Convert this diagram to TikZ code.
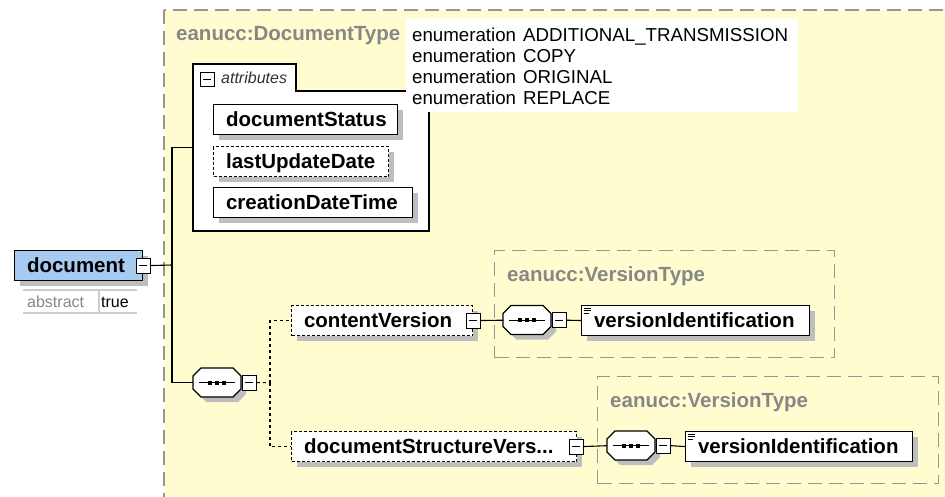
\documentclass[tikz,border=0pt]{standalone}
\usepackage{fontspec}
\setmainfont{Liberation Sans}
\usetikzlibrary{shadows}
\definecolor{bgy}{RGB}{255,253,208}
\definecolor{docblue}{RGB}{166,202,240}
\definecolor{lblgray}{RGB}{135,135,135}
\definecolor{boxgray}{RGB}{150,150,150}
\definecolor{shadowc}{RGB}{190,190,190}
\definecolor{rulegray}{RGB}{205,205,205}
\newcommand\boxlbl[2]{\makebox[#1][l]{#2}}
\newcommand\seqnode[2]{%
  \node[minimum width=48pt, minimum height=29pt, inner sep=0pt, anchor=north west] (#1) at (#2) {};
  \fill[shadowc, shift={(#1.north west)}, xshift=5pt, yshift=-5pt] (8,0) -- (40,0) -- (48,8) -- (48,21) -- (40,29) -- (8,29) -- (0,21) -- (0,8) -- cycle;
  \draw[line width=1.1pt, fill=white, shift={(#1.north west)}] (8,0) -- (40,0) -- (48,8) -- (48,21) -- (40,29) -- (8,29) -- (0,21) -- (0,8) -- cycle;
  \draw[line width=1pt] ([xshift=6pt]#1.west) -- ([xshift=-6pt]#1.east);
  \foreach \dx in {-7,0,7} {\fill ([xshift=\dx pt]#1.center) ++(-1.8pt,-1.8pt) rectangle ++(3.6pt,3.6pt);}
  \node[expander, anchor=west] (#1x) at ([xshift=0.5pt]#1.east) {};
}
\begin{document}
\begin{tikzpicture}[x=1pt,y=-1pt,
  bfont/.style={font=\fontsize{20.5}{24}\selectfont\bfseries},
  elem/.style={draw=black, line width=1.1pt, fill=white, anchor=north west, minimum height=30pt,
    inner xsep=12.5pt, inner ysep=0pt, text height=15pt, text depth=1pt, bfont,
    drop shadow={shadow xshift=5pt, shadow yshift=-5pt, fill=shadowc, opacity=1}},
  optelem/.style={elem, dash pattern=on 3pt off 2pt},
  expander/.style={draw=black, line width=1pt, fill=white, minimum width=14pt, minimum height=15pt, inner sep=0pt,
    path picture={\draw[line width=1pt] ([xshift=3pt]path picture bounding box.west) -- ([xshift=-3pt]path picture bounding box.east);}},
  typelbl/.style={anchor=west, inner sep=0pt, text height=15pt, text depth=1pt, bfont, text=lblgray},
  typebox/.style={draw=boxgray, line width=1.2pt, dash pattern=on 14pt off 7pt, anchor=north west, inner sep=0pt},
  enumtxt/.style={anchor=base west, inner sep=0pt, font=\fontsize{18.7}{21}\selectfont},
  conn/.style={line width=1.1pt, draw=black},
  dconn/.style={line width=1.1pt, draw=black, dash pattern=on 3pt off 3pt},
]
\useasboundingbox (0,0) rectangle (945,497);
\clip (0,0) rectangle (945,497);
\fill[white] (0,0) rectangle (945,497);

% outer complex type box
\draw[boxgray, line width=1.3pt, dash pattern=on 14pt off 7pt, fill=bgy] (164,10) rectangle (1000,540);
\node[typelbl] (dtl) at (176,34) {eanucc:DocumentType};

% version type boxes
\node[typebox, minimum width=340pt, minimum height=107pt] (vt1) at (494,250) {};
\node[typelbl] (vt1l) at (507,274) {eanucc:VersionType};
\node[typebox, minimum width=341pt, minimum height=107pt] (vt2) at (597,376) {};
\node[typelbl] (vt2l) at (610,400) {eanucc:VersionType};

% attributes box
\node[minimum width=236pt, minimum height=167pt, inner sep=0pt, anchor=north west] (attr) at (193,64) {};
\draw[line width=1.1pt, fill=white, shift={(attr.north west)}] (0,0) -- (103,0) -- (103,27) -- (236,27) -- (236,167) -- (0,167) -- cycle;
\node[expander, minimum width=14pt, minimum height=14pt, anchor=north west, line width=0.9pt] (attrx) at (200,72) {};
\node[anchor=base west, inner sep=0pt, font=\fontsize{16}{18}\selectfont\itshape, text=black!80] (attrl) at (221,84) {attributes};

% enumeration facets
\node[fill=white, inner sep=0pt, minimum width=392pt, minimum height=93pt, anchor=north west] (enum) at (406,19) {};
\node[enumtxt] (en1) at (412,42) {enumeration\hspace{7pt}ADDITIONAL\_TRANSMISSION};
\node[enumtxt] (en2) at (412,63) {enumeration\hspace{7pt}COPY};
\node[enumtxt] (en3) at (412,84) {enumeration\hspace{7pt}ORIGINAL};
\node[enumtxt] (en4) at (412,105) {enumeration\hspace{7pt}REPLACE};

% attribute elements
\node[elem] (ds) at (213,104) {\boxlbl{159pt}{documentStatus}};
\node[optelem] (lud) at (213,146) {\boxlbl{150pt}{lastUpdateDate}};
\node[elem] (cdt) at (213,187) {\boxlbl{174pt}{creationDateTime}};

% document root
\node[elem, fill=docblue] (doc) at (14,250) {\boxlbl{103pt}{document}};
\node[expander] (docx) at (doc.east) {};
\node[anchor=base west, inner sep=0pt, font=\fontsize{16}{18}\selectfont, text=lblgray] (abs) at (27,307) {abstract};
\node[anchor=base west, inner sep=0pt, font=\fontsize{16}{18}\selectfont] (tru) at (101,307) {true};
\draw[rulegray, line width=1.3pt] (23,290) -- (137,290) (23,313) -- (137,313) (99,290) -- (99,313);

% connectors from root
\coordinate (j1) at (172,265);
\draw[conn] (docx.east) -- (j1);
\draw[conn] (attr.west) -| (j1);

% sequence 1 and children
\seqnode{s1}{193,368}
\draw[conn] (j1) |- (s1.west);
\coordinate (j2) at (270,382.5);
\draw[dconn] (s1x.east) -- (j2);

\node[optelem] (cv) at (291,305) {\boxlbl{156pt}{contentVersion}};
\node[expander] (cvx) at (cv.east) {};
\node[optelem] (dsv) at (291,431) {\boxlbl{260pt}{documentStructureVers...}};
\node[expander] (dsvx) at ([xshift=-1pt]dsv.east) {};
\draw[dconn] (j2) |- (cv.west);
\draw[dconn] (j2) |- (dsv.west);

% version type 1
\seqnode{s2}{503,305.5}
\draw[conn] (cvx.east) -- (s2.west);
\node[elem] (vi1) at (581,305) {\boxlbl{203pt}{versionIdentification}};
\draw[conn] (s2x.east) -- (vi1.west);
\draw[line width=0.8pt] ([shift={(2.5pt,-3pt)}]vi1.north west) -- ++(7pt,0) ([shift={(2.5pt,-5.5pt)}]vi1.north west) -- ++(7pt,0) ([shift={(2.5pt,-8pt)}]vi1.north west) -- ++(5pt,0);

% version type 2
\seqnode{s3}{607,431}
\draw[conn] (dsvx.east) -- (s3.west);
\node[elem] (vi2) at (685,431) {\boxlbl{202pt}{versionIdentification}};
\draw[conn] (s3x.east) -- (vi2.west);
\draw[line width=0.8pt] ([shift={(2.5pt,-3pt)}]vi2.north west) -- ++(7pt,0) ([shift={(2.5pt,-5.5pt)}]vi2.north west) -- ++(7pt,0) ([shift={(2.5pt,-8pt)}]vi2.north west) -- ++(5pt,0);
\end{tikzpicture}
\end{document}
